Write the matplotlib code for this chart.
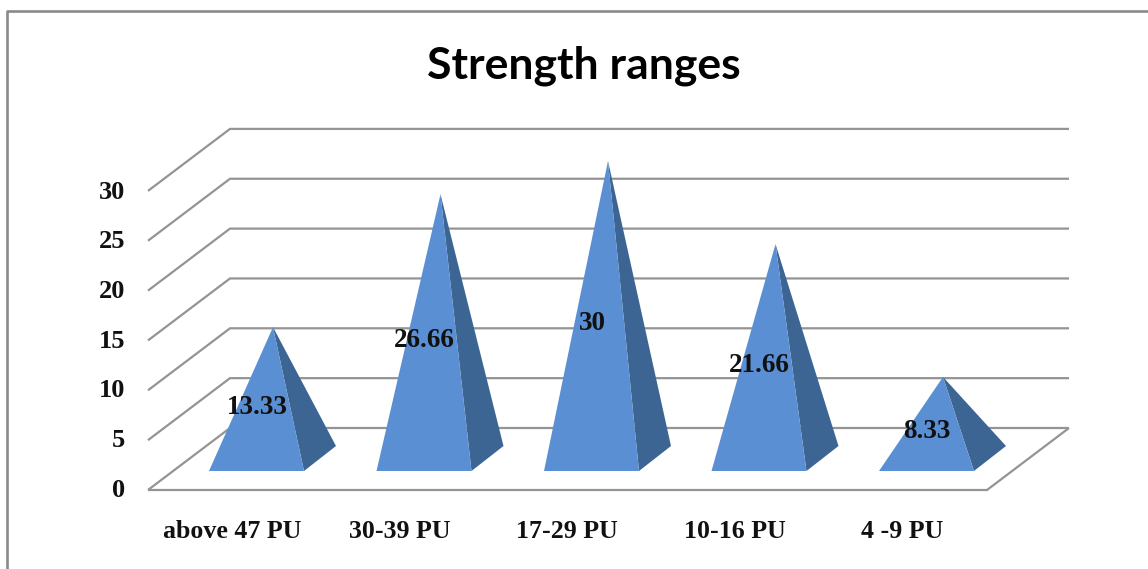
import matplotlib
matplotlib.use("Agg")
import matplotlib.pyplot as plt
from matplotlib.patches import Polygon

# Data
categories = ["above 47 PU", "30-39 PU", "17-29 PU", "10-16 PU", "4 -9 PU"]
values = [13.33, 26.66, 30, 21.66, 8.33]
value_labels = ["13.33", "26.66", "30", "21.66", "8.33"]
y_ticks = [0, 5, 10, 15, 20, 25, 30]
gridlines = [0, 5, 10, 15, 20, 25, 30]
title = "Strength ranges"

# Layout (pixels of the 1148x569 canvas)
W, H = 1148, 569
FRONT_X0, FRONT_X1, FRONT_Y0 = 148, 987, 490
BACK_X0, BACK_X1, BACK_Y0 = 230, 1069, 428
PX_PER_UNIT = 9.97
CAT_START, CAT_STEP = 256.5, 167.5
BASE_HALF = 47.5
BASE_FRONT_Y, BASE_BACK_Y = 471, 446
BASE_DX = 32
BASE_CENTER_Y = 460
GRID = "#949494"
LIGHT, DARK = "#5a90d3", "#3c6594"

fig = plt.figure(figsize=(W / 100, H / 100), dpi=100, facecolor="white")
ax = fig.add_axes([0, 0, 1, 1])
ax.set_xlim(0, W)
ax.set_ylim(H, 0)
ax.axis("off")

# Chart border
ax.plot([7, 7, W], [H, 11, 11], color="#8a8a8a", lw=1.9, solid_capstyle="butt", zorder=1)

# Walls and floor
for v in gridlines:
    dy = v * PX_PER_UNIT
    ax.plot([FRONT_X0, BACK_X0, BACK_X1], [FRONT_Y0 - dy, BACK_Y0 - dy, BACK_Y0 - dy],
            color=GRID, lw=1.6, solid_joinstyle="miter", solid_capstyle="butt", zorder=2)
ax.plot([FRONT_X0, FRONT_X1, BACK_X1], [FRONT_Y0, FRONT_Y0, BACK_Y0],
        color=GRID, lw=1.6, solid_joinstyle="miter", solid_capstyle="butt", zorder=2)

# Y tick labels
serif = dict(family="Liberation Serif", fontweight="bold", color="#111111")
for v in y_ticks:
    ax.text(125, FRONT_Y0 - v * PX_PER_UNIT * 0.996, str(v), ha="right", va="center",
            fontsize=19, **serif)

# Pyramids
for i, (cat, val, lab) in enumerate(zip(categories, values, value_labels)):
    cx = CAT_START + i * CAT_STEP
    left, right = cx - BASE_HALF, cx + BASE_HALF
    apex = (cx + 16.5, BASE_CENTER_Y - val * PX_PER_UNIT)
    ax.add_patch(Polygon([(right, BASE_FRONT_Y), (right + BASE_DX, BASE_BACK_Y), apex],
                         closed=True, fc=DARK, ec="none", zorder=3))
    ax.add_patch(Polygon([(left, BASE_FRONT_Y), (right, BASE_FRONT_Y), apex],
                         closed=True, fc=LIGHT, ec="none", zorder=4))
    ax.text(apex[0] - 16, (apex[1] + BASE_FRONT_Y) / 2 + 8, lab, ha="center", va="center",
            fontsize=19.5, zorder=5, **serif)
    ax.text(cx - 24.5, 532, cat, ha="center", va="center", fontsize=18.6, **serif)

# Title
ax.text(584, 66, title, ha="center", va="center", fontsize=32,
        family="Lato", fontweight="bold", color="black")

fig.savefig("out.png", dpi=100, facecolor="white")
